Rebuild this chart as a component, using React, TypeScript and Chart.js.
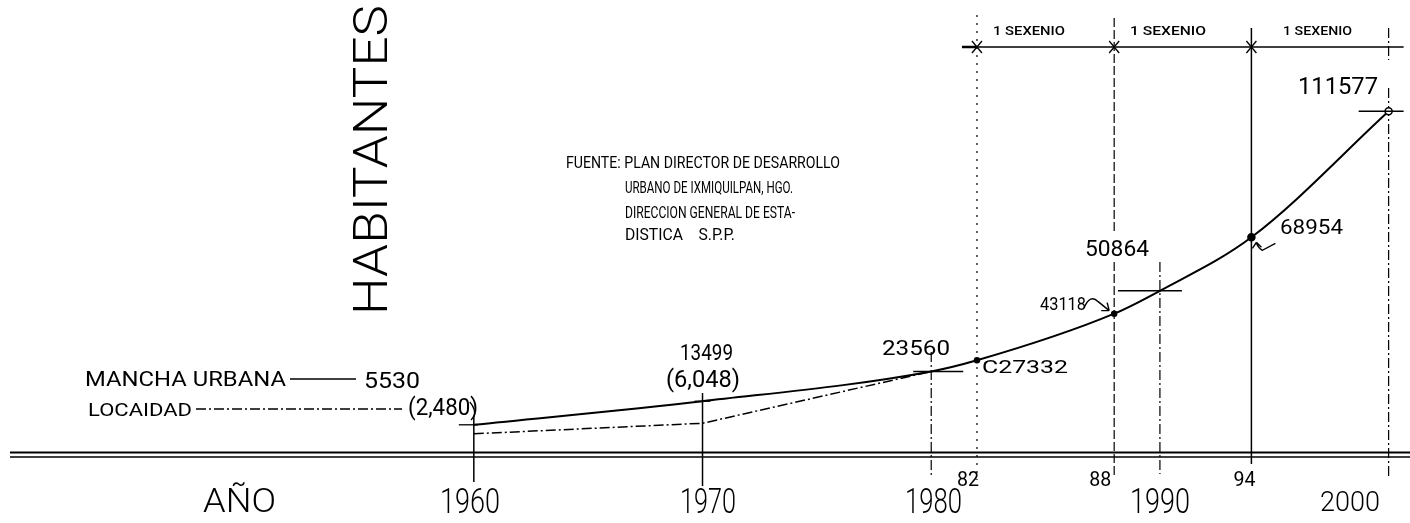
import React, { useEffect, useRef } from "react";
import { Chart, registerables } from "chart.js";
Chart.register(...registerables);

// ---- data ----
const years = [1960, 1970, 1980, 1982, 1988, 1990, 1994, 2000];
const manchaUrbana = [5530, 13499, 23560, 27332, 43118, 50864, 68954, 111577];
const manchaLabels = ["5530", "13499", "23560", "C27332", "43118", "50864", "68954", "111577"];
const localidadYears = [1960, 1970, 1980];
const localidad = [2480, 6048, 23560];
const localidadLabels = ["(2,480)", "(6,048)"];
const yearTicks = [1960, 1970, 1980, 1990, 2000];
const yearTickLabels = ["1960", "1970", "1980", "1990", "2000"];
const shortTicks = [1982, 1988, 1994];
const shortTickLabels = ["82", "88", "94"];
const sexenioYears = [1982, 1988, 1994, 2000];
const sexenioLabels = ["1 SEXENIO", "1 SEXENIO", "1 SEXENIO"];
const sourceLines = [
  "FUENTE: PLAN DIRECTOR DE DESARROLLO",
  "URBANO DE IXMIQUILPAN, HGO.",
  "DIRECCION GENERAL DE ESTA-",
  "DISTICA    S.P.P.",
];
const legendLabels = ["MANCHA URBANA", "LOCAIDAD"];
const yTitle = "HABITANTES";
const xTitle = "AÑO";

const FONT = 'Roboto, "DejaVu Sans", sans-serif';
const DASHDOT = [10, 3, 2, 3];

function drawText(ctx: CanvasRenderingContext2D, text: string, x1: number, x2: number, yc: number, cap: number, weight = "400") {
  const size = cap / 0.71;
  ctx.save();
  ctx.font = `${weight} ${size}px ${FONT}`;
  ctx.textAlign = "left";
  ctx.textBaseline = "alphabetic";
  const w = ctx.measureText(text).width || 1;
  ctx.translate(x1, yc + cap / 2);
  ctx.scale((x2 - x1) / w, 1);
  ctx.fillStyle = "#000";
  ctx.fillText(text, 0, 0);
  ctx.restore();
}

function seg(ctx: CanvasRenderingContext2D, x1: number, y1: number, x2: number, y2: number, dash: number[] = [], width = 1.3) {
  ctx.save();
  ctx.strokeStyle = "#000";
  ctx.lineWidth = width;
  ctx.setLineDash(dash);
  ctx.beginPath();
  ctx.moveTo(x1, y1);
  ctx.lineTo(x2, y2);
  ctx.stroke();
  ctx.restore();
}

const guideStyle: Record<number, { spans: number[][]; dash: number[]; width: number }> = {
  1960: { spans: [[418, 482]], dash: [], width: 1.5 },
  1970: { spans: [[393, 486]], dash: [], width: 1.5 },
  1980: { spans: [[352, 478]], dash: DASHDOT, width: 1.2 },
  1982: { spans: [[15, 480]], dash: [2, 6], width: 1.2 },
  1988: { spans: [[18, 232], [262, 476]], dash: [9, 3], width: 1.2 },
  1990: { spans: [[262, 474]], dash: DASHDOT, width: 1.2 },
  1994: { spans: [[28, 464]], dash: [], width: 1.5 },
  2000: { spans: [[28, 60], [88, 476]], dash: DASHDOT, width: 1.2 },
};

const crossExtent: Record<number, number[]> = {
  1960: [-15, 4],
  1970: [-8, 8],
  1980: [-18, 32],
  1990: [-42, 22],
  2000: [-30, 15],
};

const annotPlugin = {
  id: "annot",
  beforeDatasetsDraw(chart: any) {
    const ctx: CanvasRenderingContext2D = chart.ctx;
    const xs = chart.scales.x;
    const X = (v: number) => xs.getPixelForValue(v);
    ctx.save();
    ctx.strokeStyle = "#000";
    // baseline double line
    seg(ctx, 10, 452.5, 1410, 452.5, [], 2);
    seg(ctx, 10, 457, 1410, 457, [], 1.6);
    // vertical guides
    years.forEach((yr) => {
      const st = guideStyle[yr];
      if (!st) return;
      st.spans.forEach(([a, b]) => seg(ctx, X(yr), a, X(yr), b, st.dash, st.width));
    });
    // sexenio bar
    const sy = 47;
    seg(ctx, X(sexenioYears[0]) - 15, sy, X(sexenioYears[sexenioYears.length - 1]) + 15, sy, [], 1.3);
    seg(ctx, X(sexenioYears[0]) - 15, sy, X(sexenioYears[0]), sy, [], 2.5);
    sexenioYears.slice(0, 3).forEach((yr) => {
      const x = X(yr);
      seg(ctx, x - 5, sy - 6, x + 5, sy + 6, [], 1.3);
      seg(ctx, x + 5, sy - 6, x - 5, sy + 6, [], 1.3);
    });
    // legend lines
    seg(ctx, 290, 379, 356, 379, [], 1.5);
    seg(ctx, 196, 409, 402, 409, DASHDOT, 1.5);
    ctx.restore();
  },
  afterDatasetsDraw(chart: any) {
    const ctx: CanvasRenderingContext2D = chart.ctx;
    const xs = chart.scales.x;
    const ys = chart.scales.y;
    const X = (v: number) => xs.getPixelForValue(v);
    const Y = (v: number) => ys.getPixelForValue(v);
    // crosses at points
    years.forEach((yr, i) => {
      const ext = crossExtent[yr];
      if (!ext) return;
      const x = X(yr), y = Y(manchaUrbana[i]);
      seg(ctx, x + ext[0], y, x + ext[1], y, [], 1.3);
    });
    // bracket under (2,480)
    ctx.save();
    ctx.lineWidth = 1.3;
    ctx.beginPath();
    ctx.moveTo(X(1960) - 4, 402);
    ctx.quadraticCurveTo(X(1960) + 3, 410, X(1960), 418);
    ctx.stroke();
    ctx.restore();
    // pointer arrows (anchored to the data points)
    const x88 = X(1988), y88 = Y(manchaUrbana[4]);
    const x94 = X(1994), y94 = Y(manchaUrbana[6]);
    ctx.save();
    ctx.lineWidth = 1.4;
    ctx.strokeStyle = "#000";
    ctx.beginPath();
    ctx.moveTo(x88 - 30, y88 - 6);
    ctx.quadraticCurveTo(x88 - 24, y88 - 20, x88 - 16, y88 - 12);
    ctx.lineTo(x88 - 5, y88 - 3);
    ctx.moveTo(x88 - 5, y88 - 3);
    ctx.lineTo(x88 - 13, y88 - 3);
    ctx.moveTo(x88 - 5, y88 - 3);
    ctx.lineTo(x88 - 7, y88 - 11);
    ctx.moveTo(x94 + 24, y94 + 6);
    ctx.lineTo(x94 + 11, y94 + 13);
    ctx.quadraticCurveTo(x94 + 6, y94 + 10, x94 + 5, y94 + 5);
    ctx.moveTo(x94 + 5, y94 + 5);
    ctx.lineTo(x94 + 1, y94 + 11);
    ctx.moveTo(x94 + 5, y94 + 5);
    ctx.lineTo(x94 + 10, y94 + 10);
    ctx.stroke();
    ctx.restore();

    // texts
    drawText(ctx, legendLabels[0], 85, 286, 379, 14);
    drawText(ctx, legendLabels[1], 88, 192, 409, 13);
    drawText(ctx, manchaLabels[0], 364, 420, 380, 16);
    drawText(ctx, localidadLabels[0], 408, 478, 406, 17);
    drawText(ctx, manchaLabels[1], 680, 733, 352, 16);
    drawText(ctx, localidadLabels[1], 666, 740, 378, 17);
    drawText(ctx, manchaLabels[2], 882, 950, 347, 15);
    drawText(ctx, manchaLabels[3], 982, 1068, 366, 13);
    drawText(ctx, manchaLabels[4], 1040, 1086, 303, 13);
    drawText(ctx, manchaLabels[5], 1085, 1149, 248, 16);
    drawText(ctx, manchaLabels[6], 1280, 1343, 226, 15);
    drawText(ctx, manchaLabels[7], 1298, 1378, 85, 17);

    drawText(ctx, sourceLines[0], 566, 840, 162, 12);
    drawText(ctx, sourceLines[1], 625, 793, 187, 12);
    drawText(ctx, sourceLines[2], 625, 795, 212, 12);
    drawText(ctx, sourceLines[3], 625, 735, 234, 12);

    const sexBoxes = [[993, 1065], [1130, 1206], [1283, 1352]];
    sexenioLabels.forEach((t, i) => drawText(ctx, t, sexBoxes[i][0], sexBoxes[i][1], 30, 9, "500"));

    const yearBoxes = [[440, 500, 500, 25], [680, 736, 500, 25], [905, 962, 500, 25], [1130, 1190, 500, 25], [1320, 1380, 501, 20]];
    yearTickLabels.forEach((t, i) => drawText(ctx, t, yearBoxes[i][0], yearBoxes[i][1], yearBoxes[i][2], yearBoxes[i][3], "300"));
    const shortOffsets = [-9, -14, -7];
    shortTickLabels.forEach((t, i) => {
      const x = X(shortTicks[i]) + shortOffsets[i];
      drawText(ctx, t, x - 11, x + 11, 479, 14);
    });
    drawText(ctx, xTitle, 203, 276, 500, 24, "300");

    // rotated y title
    ctx.save();
    ctx.translate(370, 160);
    ctx.rotate(-Math.PI / 2);
    drawText(ctx, yTitle, -155, 155, 0, 34, "300");
    ctx.restore();
  },
};

export default function App() {
  const ref = useRef<HTMLCanvasElement | null>(null);
  useEffect(() => {
    if (!ref.current) return;
    const pxPerYear = 23.05;
    const xMin = 1960 - 472 / pxPerYear;
    const xMax = xMin + 1410 / pxPerYear;
    const pxPerUnit = 0.00302;
    const yMax = 445 / pxPerUnit;
    const yMin = yMax - 523 / pxPerUnit;
    const chart = new Chart(ref.current, {
      type: "line",
      data: {
        datasets: [
          {
            label: legendLabels[0],
            data: years.map((x, i) => ({ x, y: manchaUrbana[i] })),
            borderColor: "#000",
            borderWidth: 2,
            cubicInterpolationMode: "monotone",
            pointRadius: [0, 0, 0, 2.5, 2.5, 0, 3.5, 3.5],
            pointBackgroundColor: ["#000", "#000", "#000", "#000", "#000", "#000", "#000", "#fff"],
            pointBorderColor: "#000",
            pointBorderWidth: 1.5,
          },
          {
            label: legendLabels[1],
            data: localidadYears.map((x, i) => ({ x, y: localidad[i] })),
            borderColor: "#000",
            borderWidth: 1.5,
            borderDash: DASHDOT,
            pointRadius: 0,
            tension: 0,
          },
        ],
      },
      options: {
        animation: false,
        responsive: false,
        devicePixelRatio: 1,
        layout: { padding: 0 },
        plugins: { legend: { display: false }, tooltip: { enabled: false } },
        scales: {
          x: { type: "linear", display: false, min: xMin, max: xMax },
          y: { type: "linear", display: false, min: yMin, max: yMax },
        },
      },
      plugins: [annotPlugin],
    } as any);
    return () => chart.destroy();
  }, []);
  return (
    <div style={{ position: "absolute", left: 0, top: 0, width: 1410, height: 523, background: "#fff" }}>
      <canvas ref={ref} width={1410} height={523} />
    </div>
  );
}
